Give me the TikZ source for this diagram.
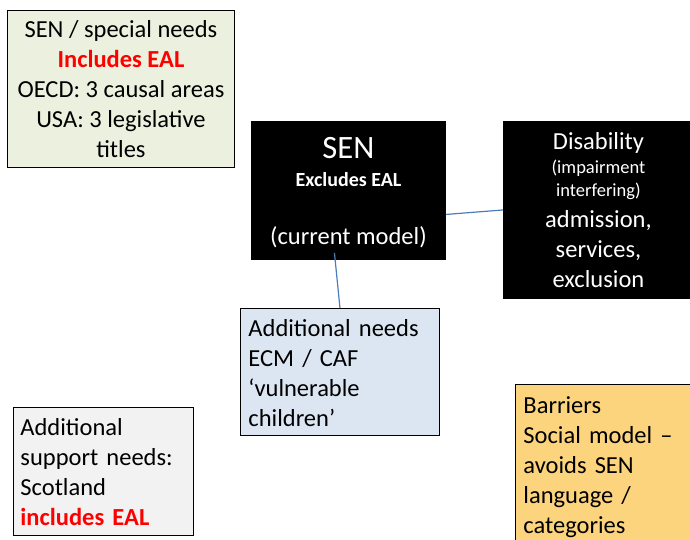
\documentclass[tikz,border=0pt]{standalone}
\usepackage{fontspec}
\setmainfont{Carlito}
\definecolor{boxgreen}{HTML}{EBF1DE}
\definecolor{boxblue}{HTML}{DCE6F2}
\definecolor{boxgrey}{HTML}{F2F2F2}
\definecolor{boxorange}{HTML}{FDD47E}
\definecolor{linkblue}{HTML}{4A7EBB}
\definecolor{alertred}{HTML}{FF0000}
% fixed top and bottom extent of a text block, so its lines sit at set heights
\newcommand{\blocktop}[1]{\rule{0pt}{#1}}
\newcommand{\blockbottom}{\rule[-8pt]{0pt}{8pt}}
\begin{document}
\begin{tikzpicture}[x=1pt,y=-1pt,
  box/.style={draw=black, line width=0.9pt, inner sep=0pt, anchor=north west,
    font=\fontsize{24.5}{30}\selectfont},
  darkbox/.style={box, fill=black, text=white, align=center},
  leftbox/.style={box, align=left, inner xsep=8pt},
  small/.style={},
  conn/.style={draw=linkblue, line width=1.2pt}]
\useasboundingbox (0,0) rectangle (690,539);

% definitions across systems
\node[box, fill=boxgreen, align=center, minimum width=227, minimum height=157]
  (special) at (7,10)
  {\blocktop{25pt}SEN / special needs\\
   \textcolor{alertred}{\bfseries Includes EAL}\\
   OECD: 3 causal areas\\
   USA: 3 legislative\\
   titles\blockbottom};

\node[darkbox, minimum width=194, minimum height=138] (sen) at (251,121)
  {\blocktop{30pt}{\fontsize{32.6}{30}\selectfont SEN}\\[-2pt]
   {\bfseries\fontsize{20}{30}\selectfont Excludes EAL}\\[28pt]
   (current model)\blockbottom};

\node[darkbox, minimum width=190, minimum height=177] (dis) at (503,121)
  {\blocktop{25.5pt}Disability\\[-6.5pt]
   {\fontsize{18.5}{30}\selectfont (impairment}\\[-7pt]
   {\fontsize{18.5}{30}\selectfont interfering)}\\[1pt]
   admission,\\
   services,\\
   exclusion\blockbottom};

\node[leftbox, fill=boxblue, text width=183, minimum height=127] (add) at (240,308)
  {\blocktop{27pt}Additional needs\\
   ECM / CAF\\
   `vulnerable\\
   children'\blockbottom};

\node[leftbox, fill=boxgrey, inner xsep=7pt, text width=166, minimum height=128]
  (asn) at (13,407)
  {\blocktop{27pt}Additional\\
   support needs:\\
   Scotland\\
   \textcolor{alertred}{\bfseries includes EAL}\blockbottom};

\node[leftbox, fill=boxorange, text width=164, minimum height=162] (bar) at (515,384)
  {\blocktop{25pt}Barriers\\
   Social model --\\
   avoids SEN\\
   language /\\
   categories\blockbottom};

% links from the current model
\draw[conn] ([yshift=-24pt]sen.east) -- (dis.west);
\draw[conn] ([xshift=-14pt,yshift=7pt]sen.south) -- (add.north);
\end{tikzpicture}
\end{document}
